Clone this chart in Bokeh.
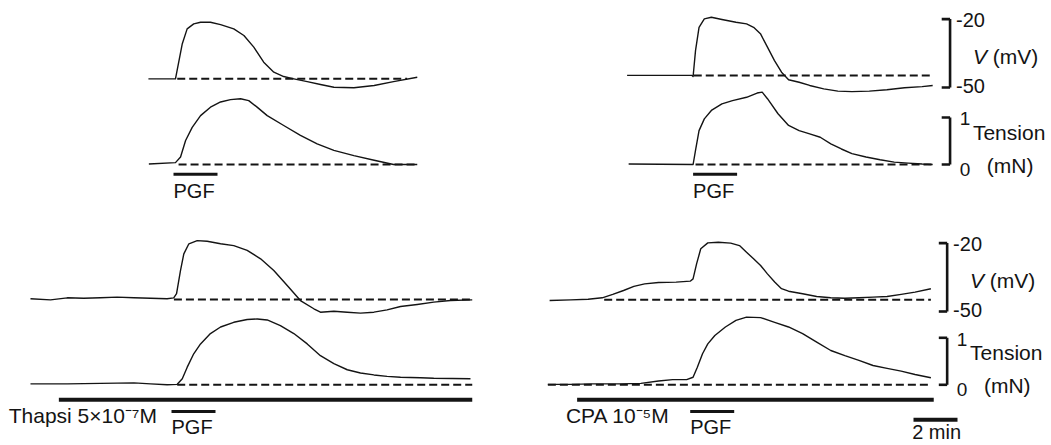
from bokeh.plotting import figure
from bokeh.models import Range1d
from bokeh.core.properties import value
from bokeh.embed import file_html
from bokeh.resources import INLINE

# ---------------- data (time in min from PGF onset, V in mV, tension in mN) ----------------
# Top-left: control, membrane potential
tl_v_t = [-1.14, 0.0, 0.09, 0.40, 0.62, 0.92, 1.23, 1.68, 2.14, 2.74, 3.2, 3.65, 4.1, 4.56,
          5.01, 5.47, 6.08, 6.68, 7.29, 8.2, 9.12, 10.0, 11.08]
tl_v_mv = [-46.2, -46.2, -46.2, -30.8, -24.3, -22.1, -21.4, -21.4, -22.4, -24.3, -27.2, -32.3,
           -38.9, -43.3, -45.2, -46.2, -47.4, -48.7, -49.9, -50.1, -49.1, -47.4, -45.5]
# Top-left: control, tension
tl_t_t = [-1.12, 0.09, 0.32, 0.55, 0.85, 1.23, 1.68, 2.14, 2.59, 3.05, 3.42, 3.8, 4.26, 5.01,
          5.77, 6.53, 7.29, 8.2, 9.12, 10.0, 11.08]
tl_t_mn = [0.01, 0.04, 0.16, 0.51, 0.79, 1.04, 1.22, 1.33, 1.38, 1.40, 1.36, 1.22, 1.04, 0.83,
           0.62, 0.44, 0.30, 0.19, 0.09, 0.0, 0.0]

# Top-right: control, membrane potential
tr_v_t = [-3.0, -0.05, 0.0, 0.11, 0.27, 0.51, 0.83, 1.31, 1.95, 2.43, 2.75, 3.06, 3.38, 3.7,
          4.02, 4.34, 4.82, 5.3, 5.94, 6.58, 7.22, 8.01, 8.81, 9.61, 10.41, 10.89]
tr_v_mv = [-44.7, -44.7, -45.2, -33.8, -23.6, -19.9, -19.2, -20.2, -21.4, -22.1, -23.6, -26.4,
           -32.3, -38.2, -43.3, -46.6, -47.7, -49.1, -50.6, -51.6, -51.8, -51.6, -51.0, -50.1,
           -49.6, -49.1]
# Top-right: control, tension
tr_t_t = [-2.93, 0.0, 0.11, 0.27, 0.51, 0.83, 1.31, 1.79, 2.43, 2.91, 3.14, 3.38, 3.86, 4.34,
          4.82, 5.3, 5.78, 6.26, 6.74, 7.22, 7.86, 8.5, 9.14, 9.78, 10.41, 10.89]
tr_t_mn = [0.01, 0.0, 0.30, 0.72, 0.97, 1.15, 1.29, 1.36, 1.43, 1.52, 1.54, 1.40, 1.08, 0.83,
           0.72, 0.65, 0.58, 0.44, 0.33, 0.23, 0.16, 0.10, 0.05, 0.03, 0.01, 0.0]

# Bottom-left: thapsigargin, membrane potential
bl_v_t = [-6.41, -5.5, -4.74, -3.99, -3.23, -2.47, -1.71, -0.95, -0.2, 0.1, 0.23, 0.41, 0.56,
          0.79, 1.17, 1.62, 2.23, 2.83, 3.44, 4.05, 4.65, 5.26, 5.86, 6.47, 6.77, 7.38, 7.99,
          8.59, 9.2, 9.8, 10.41, 11.17, 11.92, 12.68, 13.67]
bl_v_mv = [-44.4, -44.9, -44.0, -44.2, -44.0, -43.7, -44.0, -44.2, -44.4, -44.0, -42.2, -32.0,
           -24.7, -20.3, -18.9, -19.2, -20.3, -21.1, -23.2, -26.9, -32.0, -38.6, -45.2, -48.8,
           -50.3, -49.9, -50.3, -50.7, -50.3, -49.3, -47.8, -46.9, -45.9, -45.2, -44.9]
# Bottom-left: thapsigargin, tension
bl_t_t = [-6.41, -4.74, -3.23, -1.71, -0.95, -0.2, 0.26, 0.49, 0.71, 1.01, 1.32, 1.77, 2.23,
          2.83, 3.44, 3.9, 4.35, 4.95, 5.56, 6.17, 6.77, 7.38, 7.99, 8.59, 9.2, 9.8, 10.41,
          11.32, 11.92, 13.59]
bl_t_mn = [0.02, 0.02, 0.03, 0.04, 0.02, 0.0, 0.01, 0.13, 0.37, 0.66, 0.87, 1.09, 1.23, 1.33,
           1.39, 1.40, 1.38, 1.26, 1.09, 0.87, 0.62, 0.45, 0.32, 0.25, 0.21, 0.18, 0.16, 0.15,
           0.14, 0.13]

# Bottom-right: CPA, membrane potential
br_v_t = [-6.39, -5.43, -4.64, -4.0, -3.52, -3.03, -2.56, -2.07, -1.44, -0.64, 0.0, 0.13, 0.29,
          0.48, 0.8, 1.28, 1.84, 2.24, 2.56, 2.88, 3.2, 3.51, 3.84, 4.15, 4.47, 5.11, 5.75, 6.39,
          7.03, 7.67, 8.31, 8.95, 9.59, 10.22, 10.94]
br_v_mv = [-45.2, -44.9, -44.6, -44.0, -42.5, -40.8, -39.0, -37.9, -37.3, -37.1, -36.7, -35.7,
           -29.1, -22.5, -19.9, -19.6, -20.0, -21.1, -24.0, -26.9, -29.8, -33.5, -37.1, -40.0,
           -41.1, -42.2, -43.4, -44.0, -44.2, -44.0, -43.7, -43.4, -42.5, -41.5, -40.0]
# Bottom-right: CPA, tension
br_t_t = [-6.47, -5.43, -4.47, -3.83, -3.19, -2.24, -1.44, -0.8, -0.16, 0.13, 0.32, 0.56, 0.8,
          1.12, 1.6, 2.08, 2.56, 3.2, 3.84, 4.47, 5.11, 5.75, 6.39, 7.03, 7.67, 8.31, 8.95, 9.59,
          10.22, 10.94]
br_t_mn = [0.01, 0.01, 0.02, 0.02, 0.02, 0.03, 0.08, 0.11, 0.11, 0.16, 0.37, 0.66, 0.87, 1.05,
           1.23, 1.37, 1.44, 1.43, 1.33, 1.23, 1.09, 0.91, 0.73, 0.62, 0.52, 0.41, 0.35, 0.29,
           0.22, 0.15]

# dashed resting baselines: panel -> V level, V span, T span (min)
base_v_mv = {"tl": -46.2, "tr": -44.7, "bl": -44.7, "br": -44.8}
base_v_span = {"tl": (0.17, 10.62), "tr": (0.03, 10.81), "bl": (0.11, 13.67), "br": (-3.91, 10.94)}
base_t_span = {"tl": (0.23, 11.08), "tr": (0.11, 10.89), "bl": (0.26, 13.67), "br": (-6.47, 10.94)}

# drug applications (min)
pgf_on, pgf_off = 0.0, 2.0
thapsi_on, thapsi_off = -5.12, 13.67
cpa_on, cpa_off = -5.14, 11.07
thapsi_label = "Thapsi 5×10⁻⁷M"
cpa_label = "CPA 10⁻⁵M"

# calibration
cal_v = (-50, -20)
cal_t = (0, 1)
cal_time = 2  # min

# ---------------- layout ----------------
W, H = 1051, 445
PX_PER_MIN = 22.0
PX_PER_MV = 2.28
PX_PER_MN = 47.0
PANEL_X0 = {"tl": 173.0, "tr": 692.6, "bl": 171.0, "br": 689.7}   # px of PGF onset
ROW_V50 = {"top": 87.0, "bot": 311.0}                             # px (from top) of -50 mV
ROW_T0 = {"top": 164.0, "bot": 384.3}                             # px (from top) of 0 mN


def x_range_for(x0):
    return Range1d(-x0 / PX_PER_MIN, (W - x0) / PX_PER_MIN)


def v_range_for(y50):
    return Range1d(-50 - (H - y50) / PX_PER_MV, -50 + y50 / PX_PER_MV)


def t_range_for(y0):
    return Range1d(-(H - y0) / PX_PER_MN, y0 / PX_PER_MN)


p = figure(width=W, height=H, x_range=Range1d(0, W), y_range=Range1d(0, H),
           output_backend="svg", toolbar_location=None, min_border=0,
           x_axis_location=None, y_axis_location=None)
p.grid.visible = False
p.outline_line_color = None
p.background_fill_color = "white"
p.border_fill_color = "white"

p.extra_x_ranges = {k: x_range_for(v) for k, v in PANEL_X0.items()}
p.extra_y_ranges = {
    "v_top": v_range_for(ROW_V50["top"]), "v_bot": v_range_for(ROW_V50["bot"]),
    "t_top": t_range_for(ROW_T0["top"]), "t_bot": t_range_for(ROW_T0["bot"]),
}

INK = "#141414"
FONT = value("Liberation Sans")
row_of = {"tl": "top", "tr": "top", "bl": "bot", "br": "bot"}

traces = {
    "tl": (tl_v_t, tl_v_mv, tl_t_t, tl_t_mn),
    "tr": (tr_v_t, tr_v_mv, tr_t_t, tr_t_mn),
    "bl": (bl_v_t, bl_v_mv, bl_t_t, bl_t_mn),
    "br": (br_v_t, br_v_mv, br_t_t, br_t_mn),
}

for key, (vt, vv, tt, tv) in traces.items():
    row = row_of[key]
    vr, trn = "v_" + row, "t_" + row
    s, e = base_v_span[key]
    p.line([s, e], [base_v_mv[key]] * 2, x_range_name=key, y_range_name=vr,
           line_color=INK, line_width=2.0, line_dash="8 4")
    s, e = base_t_span[key]
    p.line([s, e], [0, 0], x_range_name=key, y_range_name=trn,
           line_color=INK, line_width=2.0, line_dash="8 4")
    p.line(vt, vv, x_range_name=key, y_range_name=vr, line_color=INK, line_width=1.4,
           line_join="round")
    p.line(tt, tv, x_range_name=key, y_range_name=trn, line_color=INK, line_width=1.4,
           line_join="round")


def add_text(xs, ys, texts, xr, yr, size="20px", style="normal", baseline="middle", align="left"):
    p.text(x=xs, y=ys, text=texts, x_range_name=xr, y_range_name=yr,
           text_font=FONT, text_font_size=value(size), text_font_style=value(style),
           text_color=INK, text_baseline=value(baseline), text_align=value(align))


# PGF bars + labels
pgf_bar_y = {"top": -0.21, "bot": -0.57}
pgf_txt_y = {"top": -0.56, "bot": -0.89}
for key in traces:
    row = row_of[key]
    p.line([pgf_on, pgf_off], [pgf_bar_y[row]] * 2, x_range_name=key, y_range_name="t_" + row,
           line_color=INK, line_width=3)
    add_text([pgf_on], [pgf_txt_y[row]], ["PGF"], key, "t_" + row, size="20px")

# drug bars + labels
drug_bar_y = -0.32
drug_txt_y = -0.66
p.line([thapsi_on, thapsi_off], [drug_bar_y] * 2, x_range_name="bl", y_range_name="t_bot",
       line_color=INK, line_width=4)
p.line([cpa_on, cpa_off], [drug_bar_y] * 2, x_range_name="br", y_range_name="t_bot",
       line_color=INK, line_width=4)
add_text([-7.4], [drug_txt_y], [thapsi_label], "bl", "t_bot", size="21px")
add_text([-5.65], [drug_txt_y], [cpa_label], "br", "t_bot", size="21px")

# time calibration bar
tb0 = 10.15
p.line([tb0, tb0 + cal_time], [-0.745, -0.745], x_range_name="br", y_range_name="t_bot",
       line_color=INK, line_width=4)
add_text([tb0 - 0.06], [-1.0], [f"{cal_time} min"], "br", "t_bot", size="20px")

# calibration brackets (right side of the right-hand panels)
SX0, SX1 = 11.3, 11.68
for key in ("tr", "br"):
    row = row_of[key]
    for yr, (lo, hi) in (("v_" + row, cal_v), ("t_" + row, cal_t)):
        p.multi_line(xs=[[SX0, SX1], [SX1, SX1], [SX0, SX1]],
                     ys=[[hi, hi], [lo, hi], [lo, lo]],
                     x_range_name=key, y_range_name=yr, line_color=INK, line_width=2.6)
    add_text([11.95, 11.95], [-20.5, -49.5], [f"{cal_v[1]}", f"{cal_v[0]}"], key, "v_" + row,
             size="20px")
    add_text([12.72], [-36.2], ["V"], key, "v_" + row, size="21px", style="italic")
    add_text([13.62], [-36.2], ["(mV)"], key, "v_" + row, size="21px")
    add_text([12.12, 12.12], [0.97, -0.1], [f"{cal_t[1]}", f"{cal_t[0]}"], key, "t_" + row,
             size="19px")
    add_text([12.72], [0.68], ["Tension"], key, "t_" + row, size="21px")
    add_text([13.35], [-0.02], ["(mN)"], key, "t_" + row, size="21px")

open("out.html", "w").write(file_html(p, INLINE))
